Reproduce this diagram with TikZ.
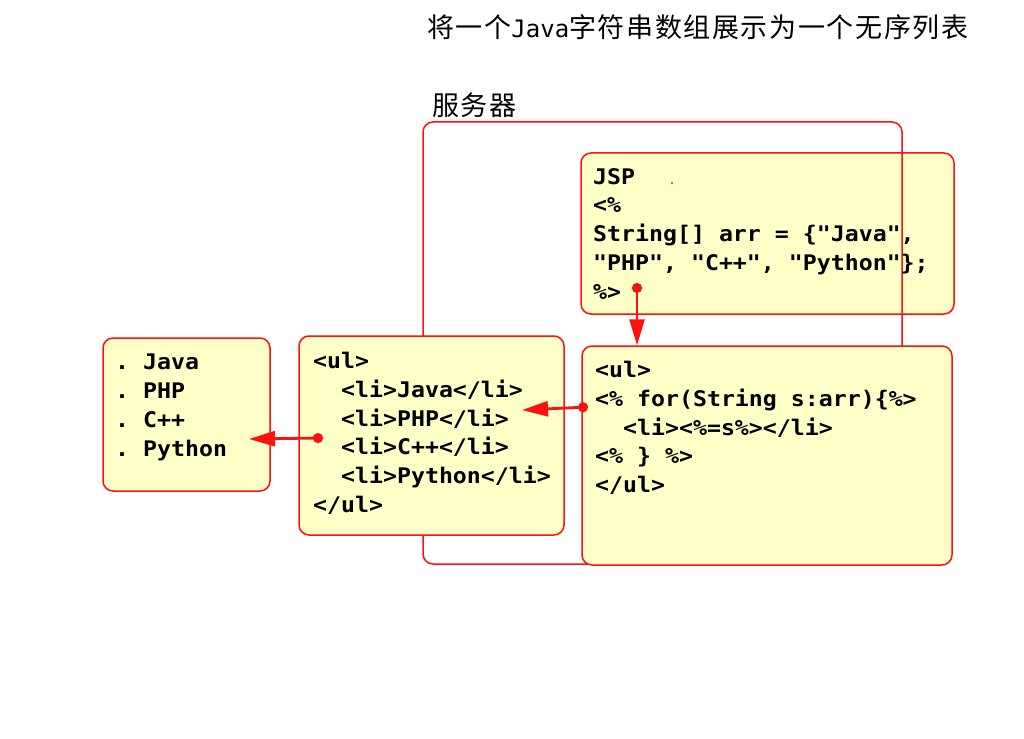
\documentclass[tikz,border=0pt]{standalone}
\usepackage{fontspec}
\setmonofont{DejaVu Sans Mono}
\newfontfamily\cjk{Noto Sans CJK SC}[LetterSpace=6]
\newfontfamily\codefont{DejaVu Sans Mono}[FakeStretch=1.08]
\newfontfamily\titlemono{DejaVu Sans Mono}
\usetikzlibrary{arrows.meta}
\definecolor{boxfill}{HTML}{FFFFC8}
\definecolor{boxred}{HTML}{FF1010}
\tikzset{
  box/.style={draw=boxred, fill=boxfill, line width=1.5pt, rounded corners=10pt, inner sep=0pt},
  server/.style={draw=boxred, line width=1.5pt, rounded corners=10pt, inner sep=0pt},
  code/.style={inner sep=0pt, anchor=north west, align=left, font=\codefont\bfseries\fontsize{21.5}{28.8}\selectfont},
  conn/.style={draw=boxred, line width=2.8pt, {Circle[length=10pt]}-{Triangle[length=26pt,width=15pt]}},
}
\begin{document}
\begin{tikzpicture}[x=1pt,y=-1pt]
\useasboundingbox (0,0) rectangle (1024,738);
% title
\node[font=\cjk\fontsize{27}{32}\selectfont, anchor=west, inner sep=0pt] (title) at (427,27) {将一个{\titlemono\fontsize{24}{30}\selectfont Java}字符串数组展示为一个无序列表};
\node[font=\cjk\fontsize{27}{32}\selectfont, anchor=west, inner sep=0pt] (serverlabel) at (432,105) {服务器};
% JSP box (behind server frame)
\node[box, minimum width=373pt, minimum height=161pt] (jsp) at (767.5,233.5) {};
% server frame
\node[server, minimum width=479pt, minimum height=442pt] (srv) at (662.5,343) {};
% other boxes
\node[box, minimum width=167pt, minimum height=153pt] (list) at (186.5,414.5) {};
\node[box, minimum width=265pt, minimum height=199pt] (html) at (431.5,435.5) {};
\node[box, minimum width=370pt, minimum height=219pt] (loop) at (767,455.5) {};
% texts
\node[code] (listtxt) at (115,354) {.\ Java\\.\ PHP\\.\ C++\\.\ Python};
\node[code] (htmltxt) at (313,352) {<ul>\\\phantom{xx}<li>Java</li>\\\phantom{xx}<li>PHP</li>\\\phantom{xx}<li>C++</li>\\\phantom{xx}<li>Python</li>\\</ul>};
\node[code] (jsptxt) at (593,168) {JSP\\<\%\\String[] arr = \{"Java",\\"PHP", "C++", "Python"\};\\\%>};
\node[code] (looptxt) at (595,361) {<ul>\\<\% for(String s:arr)\{\%>\\\phantom{xx}<li><\%=s\%></li>\\<\% \} \%>\\</ul>};
% tiny dot
\fill[boxred] (672,183) circle (1.2pt);
% connectors
\coordinate (d1) at (637,283);
\coordinate (d2) at (588,407);
\coordinate (t2) at (522,410);
\coordinate (d3) at (323,438);
\coordinate (t3) at (249,439);
\draw[conn] (d1) -- (d1 |- loop.north);
\draw[conn] (d2) -- (t2);
\draw[conn] (d3) -- (t3);
\end{tikzpicture}
\end{document}
